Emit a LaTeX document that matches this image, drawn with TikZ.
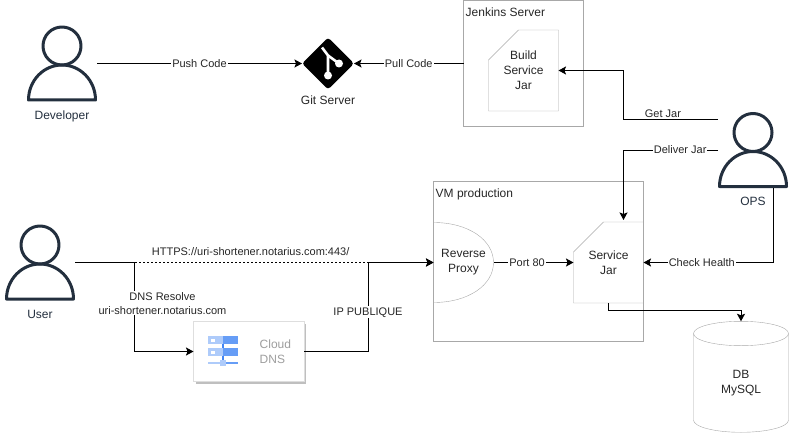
\documentclass[tikz,border=0pt]{standalone}
\usepackage{fontspec}
\setmainfont{Liberation Sans}
\usetikzlibrary{shapes.geometric, shadows, arrows.meta, positioning}
\definecolor{persondark}{HTML}{232F3E}
\definecolor{boxgray}{HTML}{A8A8A8}
\definecolor{dnslight}{HTML}{AECBFA}
\definecolor{dnsmid}{HTML}{669DF6}
\definecolor{dnsdark}{HTML}{4285F4}
\tikzstyle{arrow} = [line width=1pt,->,>={Stealth[length=7.5pt,width=8pt,inset=1.5pt]}]
\newcommand{\personnode}[4]{
  \node[personbox, label={[persontext]below:#4}] (#1) at (#2,#3) {};
  \draw[personline] ([yshift=-20.5pt]#1.north) circle[radius=19pt];
  \draw[personline] ([shift={(1.5pt,1.5pt)}]#1.south west) arc[start angle=180, end angle=0, x radius=33.5pt, y radius=35pt] -- cycle;
}
\newcommand{\cardoutline}[1]{
  \draw[boxgray] ([yshift=-30pt]#1.north west) -- ([xshift=30pt]#1.north west) -- (#1.north east) -- (#1.south east) -- (#1.south west) -- cycle;
}

\begin{document}
\begin{tikzpicture}[
    x=1pt, y=-1pt,
    every node/.style={font=\fontsize{12}{15}\selectfont, text=black!85, align=center},
    personbox/.style={minimum width=70pt, minimum height=76pt, inner sep=0pt, outer sep=0pt},
    personline/.style={draw=persondark, line width=3pt, line join=round},
    persontext/.style={text=persondark, yshift=-6pt},
    groupbox/.style={draw=boxgray, inner sep=0pt, outer sep=0pt},
    cardbox/.style={inner sep=0pt, outer sep=0pt, minimum width=70pt, minimum height=81pt},
    grouptitle/.style={anchor=north west, inner sep=2pt},
    edgelabel/.style={font=\fontsize{11}{14}\selectfont, fill=white, inner sep=1pt},
    plainlabel/.style={font=\fontsize{11}{14}\selectfont, inner sep=1pt}
]
\useasboundingbox (0,0) rectangle (792,433);

% Nodes
\personnode{developer}{62}{63.5}{Developer}
\personnode{user}{40}{262.5}{User}
\personnode{ops}{753}{150}{OPS}

\node[diamond, fill=black, rounded corners=3pt, inner sep=0pt, outer sep=0pt, minimum width=52pt, minimum height=52pt] (git) at (328,63.5) {};
\node[below=5pt of git, inner sep=1pt] (gitlabel) {Git Server};
\draw[white, line width=2.6pt] ([shift={(-6,-16)}]git.center) -- ([shift={(0,-8)}]git.center) -- ([shift={(0,12)}]git.center);
\draw[white, line width=2.6pt] ([shift={(0,-8)}]git.center) -- ([shift={(11,0)}]git.center);
\fill[white] ([shift={(0,12)}]git.center) circle[radius=4pt];
\fill[white] ([shift={(11,0)}]git.center) circle[radius=4pt];

\node[groupbox, minimum width=120pt, minimum height=126pt] (jenkins) at (523.5,63.5) {};
\node[grouptitle] (jenkinstitle) at ([yshift=-5pt]jenkins.north west) {Jenkins Server};
\node[cardbox] (build) at (523.5,70.5) {Build\\Service\\Jar};
\cardoutline{build}

\node[groupbox, minimum width=210pt, minimum height=160pt] (vm) at (538.5,261.5) {};
\node[grouptitle] (vmtitle) at ([yshift=-5pt]vm.north west) {VM production};
\node[inner sep=0pt, outer sep=0pt, minimum width=60pt, minimum height=80pt] (proxy) at (463.5,262.5) {Reverse\\Proxy};
\draw[boxgray] (proxy.north west) .. controls ([xshift=35pt]proxy.north west) and (proxy.east |- {0,240}) .. (proxy.east) .. controls (proxy.east |- {0,285}) and ([xshift=35pt]proxy.south west) .. (proxy.south west);
\node[cardbox] (service) at (608.5,262.5) {Service\\Jar};
\cardoutline{service}

\node[cylinder, shape border rotate=90, shape aspect=.61, draw=boxgray, inner sep=0pt, outer sep=0pt, minimum width=95pt, minimum height=111pt] (db) at (741,383) {DB\\MySQL};

\node[draw=black!13, fill=white, drop shadow={shadow xshift=2pt, shadow yshift=-2pt, opacity=1, fill=black!25}, inner sep=0pt, outer sep=0pt, minimum width=110.5pt, minimum height=60pt] (dns) at (248.75,351.5) {};
\node[anchor=west, inner sep=0pt, text=black!38, align=left] (dnstext) at ([xshift=66pt]dns.west) {Cloud\\DNS};
\begin{scope}[shift={(208,336)}]
  \foreach \rowy in {0,12} {
    \fill[dnslight] (0,\rowy) rectangle (15,\rowy+8);
    \fill[dnsmid] (15,\rowy) rectangle (30,\rowy+8);
    \fill[white] (3,\rowy+2.5) rectangle (6.5,\rowy+5.5);
  }
  \fill[dnsdark] (14,8) rectangle (16,12);
  \fill[dnsdark] (14,20) rectangle (16,25);
  \fill[dnslight] (0,25.5) rectangle (15,28);
  \fill[dnsmid] (15,25.5) rectangle (30,28);
  \fill[dnslight] (12,24) rectangle (18,30);
\end{scope}

% Arrows
\draw [arrow] (developer.east) -- node[edgelabel] {Push Code} (git.west);
\draw [arrow] (jenkins.west) -- node[edgelabel] {Pull Code} (git.east);
\draw [arrow] ([yshift=30pt]ops.west) -- node[plainlabel, above, pos=.58, yshift=1pt] {Get Jar} ++(-95,0) |- (build.east);
\draw [arrow] (ops.west) -| node[edgelabel, pos=.2] {Deliver Jar} ([xshift=15pt,yshift=2pt]service.north);
\draw [arrow] ([xshift=-15pt]ops.south east) |- node[edgelabel, pos=.775] {Check Health} (service.east);
\draw [arrow] (proxy.east) -- node[edgelabel, pos=.42] {Port 80} (service.west);
\draw [arrow] (service.south) -- ++(0,7) -| (db.north);
\draw [arrow, dash pattern=on 2pt off 2pt] (user.east) -- node[plainlabel, above, pos=.49, yshift=5pt] {HTTPS://uri-shortener.notarius.com:443/} (proxy.west);
\draw [arrow] (user.east) -- ++(59,0) |- node[edgelabel, pos=.23, xshift=28.5pt] {DNS Resolve\\uri-shortener.notarius.com} (dns.west);
\draw [arrow] (dns.east) -- ++(64,0) |- node[edgelabel, pos=.22] {IP PUBLIQUE} (proxy.west);

\end{tikzpicture}
\end{document}
